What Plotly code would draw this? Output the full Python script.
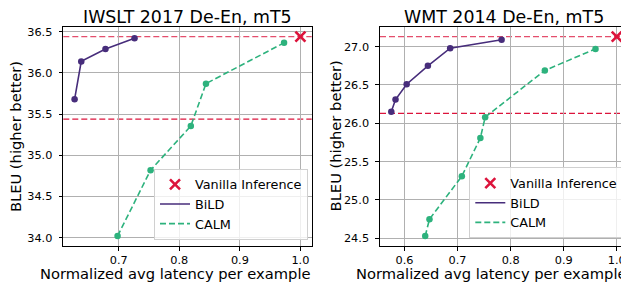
import plotly.graph_objects as go

# ---- data ----
titles = ["IWSLT 2017 De-En, mT5", "WMT 2014 De-En, mT5"]

iwslt_bild_x = [0.627, 0.638, 0.678, 0.726]
iwslt_bild_y = [35.68, 36.14, 36.29, 36.42]
iwslt_calm_x = [0.698, 0.7525, 0.819, 0.844, 0.973]
iwslt_calm_y = [34.02, 34.82, 35.355, 35.87, 36.365]
iwslt_vanilla_x = 1.0
iwslt_vanilla_y = 36.44

wmt_bild_x = [0.575, 0.583, 0.604, 0.644, 0.686, 0.783]
wmt_bild_y = [26.15, 26.31, 26.51, 26.75, 26.98, 27.09]
wmt_calm_x = [0.639, 0.647, 0.708, 0.743, 0.752, 0.8645, 0.96]
wmt_calm_y = [24.53, 24.75, 25.31, 25.81, 26.08, 26.69, 26.97]
wmt_vanilla_x = 1.0
wmt_vanilla_y = 27.13

bleu_gap = 1.0  # lower reference line = vanilla - 1 BLEU

# ---- style ----
FONT = "DejaVu Sans"
C_BILD = "#472d7b"
C_CALM = "#2db27d"
C_VAN = "#dc143c"

# the page body adds an 8px margin; lay the figure out in window pixels
OX, OY = 8, 8
FW, FH = 629 - OX, 286 - OY


def px(X):
    return (X - OX) / FW


def py(Y):
    return 1 - (Y - OY) / FH


panels = [
    dict(bx=iwslt_bild_x, by=iwslt_bild_y, cx=iwslt_calm_x, cy=iwslt_calm_y,
         vx=iwslt_vanilla_x, vy=iwslt_vanilla_y),
    dict(bx=wmt_bild_x, by=wmt_bild_y, cx=wmt_calm_x, cy=wmt_calm_y,
         vx=wmt_vanilla_x, vy=wmt_vanilla_y),
]

xdomains = [[px(63.3), px(311.7)], [px(380), px(628)]]
ydomain = [py(246), py(26.7)]
xtitle_cx = [175.5, 491.5]
ylabel_cx = [15.7, 335]
legend_right = [308, 623.3]
legend_bottom = [239.5, 238.3]

fig = go.Figure()


def auto_range(vals, m=0.05):
    lo, hi = min(vals), max(vals)
    d = (hi - lo) * m
    return [lo - d, hi + d]


for i, p in enumerate(panels):
    sfx = "" if i == 0 else str(i + 1)
    xa, ya = "x" + sfx, "y" + sfx
    leg = "legend" + sfx

    fig.add_trace(go.Scatter(x=[p["vx"]], y=[p["vy"]], mode="markers", name="Vanilla Inference",
                             marker=dict(symbol="x-thin", size=10, color=C_VAN,
                                         line=dict(color=C_VAN, width=2.6)),
                             xaxis=xa, yaxis=ya, legend=leg, showlegend=True))
    fig.add_trace(go.Scatter(x=[None], y=[None], mode="lines", name="BiLD",
                             line=dict(color=C_BILD, width=1.6),
                             xaxis=xa, yaxis=ya, legend=leg, showlegend=True))
    fig.add_trace(go.Scatter(x=[None], y=[None], mode="lines", name="CALM",
                             line=dict(color=C_CALM, width=1.6, dash="6px,3px"),
                             xaxis=xa, yaxis=ya, legend=leg, showlegend=True))
    fig.add_trace(go.Scatter(x=p["bx"], y=p["by"], mode="lines+markers", name="BiLD",
                             line=dict(color=C_BILD, width=1.6),
                             marker=dict(size=6.5, color=C_BILD),
                             xaxis=xa, yaxis=ya, showlegend=False))
    fig.add_trace(go.Scatter(x=p["cx"], y=p["cy"], mode="lines+markers", name="CALM",
                             line=dict(color=C_CALM, width=1.6, dash="6px,3px"),
                             marker=dict(size=6.5, color=C_CALM),
                             xaxis=xa, yaxis=ya, showlegend=False))

    for yv, op in [(p["vy"], 0.75), (p["vy"] - bleu_gap, 1.0)]:
        fig.add_shape(type="line", xref=xa + " domain", yref=ya, x0=0, x1=1, y0=yv, y1=yv,
                      line=dict(color=C_VAN, width=1.2, dash="6px,3px"), opacity=op, layer="below")

    allx = p["bx"] + p["cx"] + [p["vx"]]
    ally = p["by"] + p["cy"] + [p["vy"]]

    axis_common = dict(showline=True, linecolor="black", linewidth=1.3, mirror=True,
                       ticks="outside", ticklen=3.5, tickwidth=1, tickcolor="black",
                       showgrid=True, gridcolor="#b0b0b0", gridwidth=0.8, zeroline=False,
                       tickfont=dict(family=FONT, size=11.3, color="black"), tickformat=".1f")
    fig.update_layout(**{
        "xaxis" + sfx: dict(domain=xdomains[i], range=auto_range(allx), dtick=0.1, tick0=0,
                            anchor=ya, **axis_common),
        "yaxis" + sfx: dict(domain=ydomain, range=auto_range(ally), dtick=0.5, tick0=0,
                            anchor=xa, ticklabelstandoff=4, **axis_common),
        leg: dict(x=px(legend_right[i]), y=py(legend_bottom[i]),
                  xanchor="right", yanchor="bottom",
                  bgcolor="rgba(255,255,255,0.8)", bordercolor="#d0d0d0", borderwidth=1,
                  font=dict(family=FONT, size=12.8, color="black"),
                  tracegroupgap=0, itemwidth=30),
    })

    cx = (xdomains[i][0] + xdomains[i][1]) / 2
    fig.add_annotation(text=titles[i], xref="paper", yref="paper", x=cx, y=py(16.7),
                       xanchor="center", yanchor="middle", showarrow=False,
                       font=dict(family=FONT, size=17.4, color="black"))
    fig.add_annotation(text="Normalized avg latency per example", xref="paper", yref="paper",
                       x=px(xtitle_cx[i]), y=py(273.5), xanchor="center", yanchor="middle",
                       showarrow=False, font=dict(family=FONT, size=14.7, color="black"))
    fig.add_annotation(text="BLEU (higher better)", xref="paper", yref="paper",
                       x=px(ylabel_cx[i]), y=py(136.4), textangle=-90,
                       xanchor="center", yanchor="middle", showarrow=False,
                       font=dict(family=FONT, size=14.7, color="black"))

fig.update_layout(width=FW, height=FH, margin=dict(l=0, r=0, t=0, b=0),
                  paper_bgcolor="white", plot_bgcolor="white",
                  font=dict(family=FONT, color="black"))

fig.write_html("out.html")
